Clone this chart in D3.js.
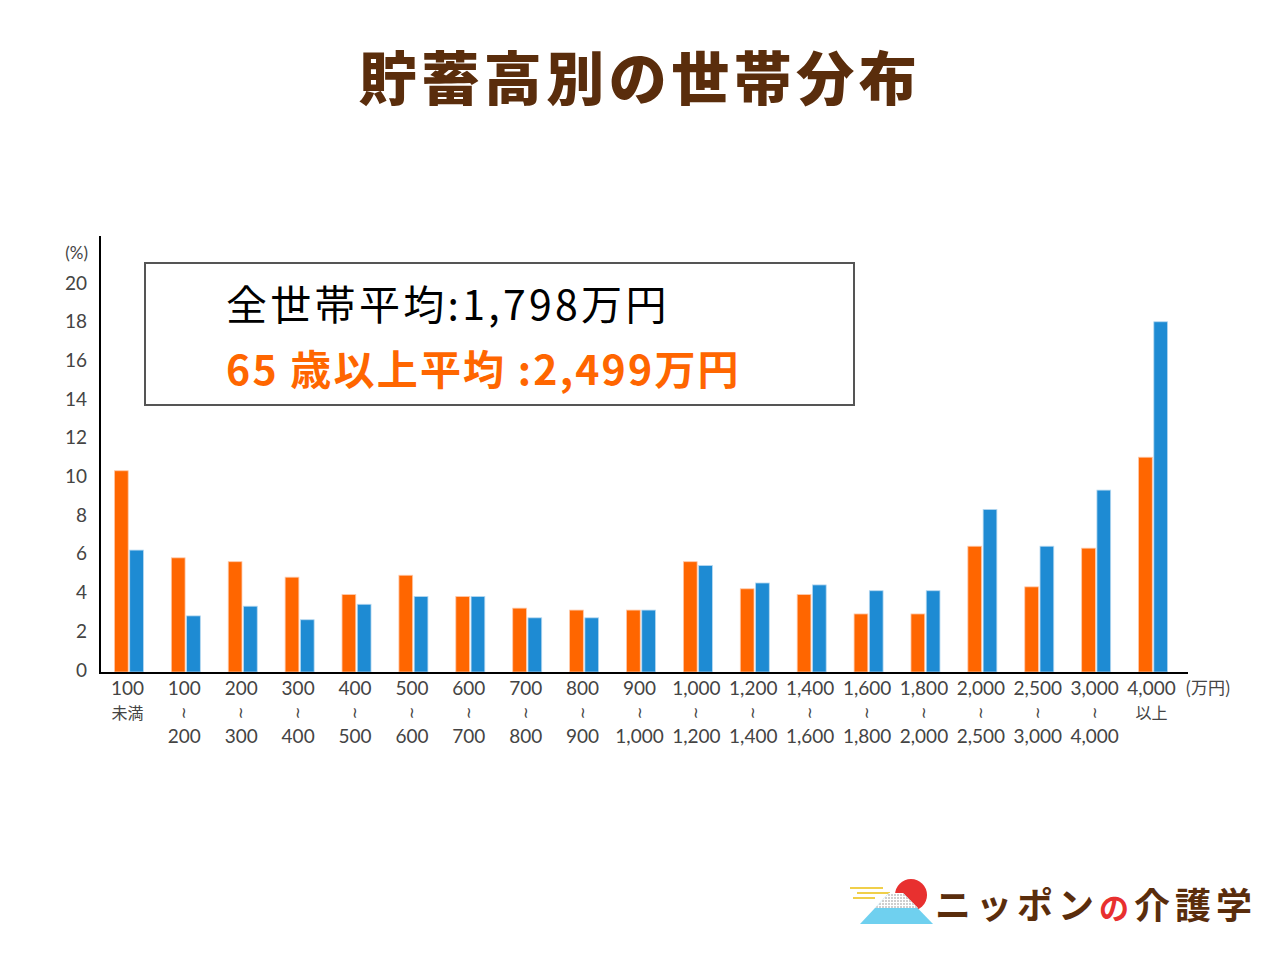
<!DOCTYPE html>
<html>
<head>
<meta charset="utf-8">
<script src="https://cdn.jsdelivr.net/npm/d3@7"></script>
<style>
body { margin: 0; background: #fff; }
text { font-family: "Noto Sans CJK JP", "Noto Sans", sans-serif; }
</style>
</head>
<body>
<div id="chart"></div>
<script>
var line1 = ['100', '100', '200', '300', '400', '500', '600', '700', '800', '900', '1,000', '1,200', '1,400', '1,600', '1,800', '2,000', '2,500', '3,000', '4,000']
var line2 = ['未満', '~', '~', '~', '~', '~', '~', '~', '~', '~', '~', '~', '~', '~', '~', '~', '~', '~', '以上']
var line3 = ['', '200', '300', '400', '500', '600', '700', '800', '900', '1,000', '1,200', '1,400', '1,600', '1,800', '2,000', '2,500', '3,000', '4,000', '']
var seriesOrange = [10.4, 5.9, 5.7, 4.9, 4.0, 5.0, 3.9, 3.3, 3.2, 3.2, 5.7, 4.3, 4.0, 3.0, 3.0, 6.5, 4.4, 6.4, 11.1]
var seriesBlue = [6.3, 2.9, 3.4, 2.7, 3.5, 3.9, 3.9, 2.8, 2.8, 3.2, 5.5, 4.6, 4.5, 4.2, 4.2, 8.4, 6.5, 9.4, 18.1]
var yTicks = [0, 2, 4, 6, 8, 10, 12, 14, 16, 18, 20]

var W = 1280, H = 960
var numFont = 'Lato, "Noto Sans", sans-serif'
var svg = d3.select('#chart').append('svg')
	.attr('width', W)
	.attr('height', H)

var idx = d3.range(line1.length)

var x = d3.scaleBand()
	.domain(idx)
	.range([99, 1180])

var x1 = d3.scaleBand()
	.domain(['o', 'b'])
	.range([-13, 16])
	.paddingInner(0.1)

var y = d3.scaleLinear()
	.domain([0, 20])
	.range([672, 285])

// title
svg.append('text')
	.attr('x', 640)
	.attr('y', 100)
	.attr('text-anchor', 'middle')
	.attr('font-size', 58)
	.attr('font-weight', 900)
	.attr('letter-spacing', 4.5)
	.attr('fill', '#5a2d0c')
	.text('貯蓄高別の世帯分布')

// bars
var g = svg.append('g')

g.selectAll('rect.o')
	.data(seriesOrange)
	.enter().append('rect')
	.attr('class', 'o')
	.attr('x', function(d, i) { return x(i) + x.bandwidth() / 2 + x1('o') })
	.attr('y', function(d) { return y(d) })
	.attr('width', x1.bandwidth())
	.attr('height', function(d) { return y(0) - y(d) })
	.attr('fill', '#ff6600')
	.attr('stroke', '#ffc8a8')
	.attr('stroke-width', 0.8)

g.selectAll('rect.b')
	.data(seriesBlue)
	.enter().append('rect')
	.attr('class', 'b')
	.attr('x', function(d, i) { return x(i) + x.bandwidth() / 2 + x1('b') })
	.attr('y', function(d) { return y(d) })
	.attr('width', x1.bandwidth())
	.attr('height', function(d) { return y(0) - y(d) })
	.attr('fill', '#1e8bd3')
	.attr('stroke', '#b5d8f0')
	.attr('stroke-width', 0.8)

// axes lines
svg.append('line')
	.attr('x1', 100).attr('x2', 100)
	.attr('y1', 236).attr('y2', 674)
	.attr('stroke', '#000').attr('stroke-width', 2)
svg.append('line')
	.attr('x1', 99).attr('x2', 1188)
	.attr('y1', 673).attr('y2', 673)
	.attr('stroke', '#000').attr('stroke-width', 2)

// y tick labels
var yAxis = d3.axisLeft(y).tickValues(yTicks).tickSize(0).tickPadding(0)
var ya = svg.append('g')
	.attr('transform', 'translate(87,-2)')
	.call(yAxis)
ya.select('.domain').remove()
ya.selectAll('text')
	.attr('font-size', 19)
	.attr('fill', '#444')
	.style('font-family', numFont)

svg.append('text')
	.attr('x', 88).attr('y', 259)
	.attr('text-anchor', 'end')
	.attr('font-size', 17)
	.attr('fill', '#444')
	.style('font-family', numFont)
	.text('(%)')

// x labels
var xl = svg.append('g')
	.attr('fill', '#444')
	.attr('text-anchor', 'middle')

function addRow(arr, yy) {
	xl.selectAll(null)
		.data(arr)
		.enter().append('text')
		.attr('x', function(d, i) { return x(i) + x.bandwidth() / 2 })
		.attr('y', yy)
		.attr('font-size', function(d) { return d === '~' ? 15 : (d === '未満' || d === '以上' ? 16 : 19) })
		.style('font-family', function(d) {
			if (d === '~') return '"DejaVu Sans", sans-serif'
			if (d === '未満' || d === '以上') return '"Noto Sans CJK JP", sans-serif'
			return numFont
		})
		.attr('dominant-baseline', function(d) { return d === '~' ? 'central' : null })
		.attr('transform', function(d, i) {
			return d === '~' ? 'rotate(90,' + (x(i) + x.bandwidth() / 2) + ',' + (yy - 6) + ')' : null
		})
		.attr('dy', function(d) { return d === '~' ? -6 : null })
		.text(function(d) { return d })
}
addRow(line1, 695)
addRow(line2, 719)
addRow(line3, 743)

svg.append('text')
	.attr('x', 1208).attr('y', 694)
	.attr('text-anchor', 'middle')
	.attr('font-size', 17)
	.attr('fill', '#444')
	.text('(万円)')

// info box
svg.append('rect')
	.attr('x', 145).attr('y', 263)
	.attr('width', 709).attr('height', 142)
	.attr('fill', '#fff')
	.attr('stroke', '#555')
	.attr('stroke-width', 2)

svg.append('text')
	.attr('x', 226).attr('y', 320)
	.attr('font-size', 41)
	.attr('letter-spacing', 3.3)
	.attr('fill', '#000')
	.text('全世帯平均:1,798万円')

svg.append('text')
	.attr('x', 226).attr('y', 385)
	.attr('font-size', 41)
	.attr('font-weight', 700)
	.attr('letter-spacing', 2.2)
	.attr('fill', '#ff6600')
	.text('65 歳以上平均 :2,499万円')

// logo
var logo = svg.append('g')
var defs = svg.append('defs')
defs.append('pattern')
	.attr('id', 'dots')
	.attr('width', 3).attr('height', 3)
	.attr('patternUnits', 'userSpaceOnUse')
	.append('rect')
	.attr('width', 2).attr('height', 2)
	.attr('fill', '#cfcfcf')

logo.append('circle')
	.attr('cx', 911).attr('cy', 895).attr('r', 16)
	.attr('fill', '#e8302f')
var yl = [[850, 883, 888], [857, 890, 893], [853, 875, 898]]
yl.forEach(function(l) {
	logo.append('line')
		.attr('x1', l[0]).attr('x2', l[1])
		.attr('y1', l[2]).attr('y2', l[2])
		.attr('stroke', '#f0cf4a').attr('stroke-width', 2)
})
logo.append('path')
	.attr('d', 'M860,924 L889,893 L903,893 L933,924 Z')
	.attr('fill', '#6fd0ef')
logo.append('path')
	.attr('d', 'M875,908 L889,893 L903,893 L918,908 Z')
	.attr('fill', '#fff')
logo.append('path')
	.attr('d', 'M875,908 L889,893 L903,893 L918,908 Z')
	.attr('fill', 'url(#dots)')

var lt = logo.append('text')
	.attr('x', 935).attr('y', 919)
	.attr('font-size', 36)
	.attr('font-weight', 700)
	.attr('letter-spacing', 5)
	.attr('fill', '#5a2d0c')
lt.append('tspan').text('ニッポン')
lt.append('tspan').attr('fill', '#e8302f').attr('font-size', 30).text('の')
lt.append('tspan').text('介護学')
</script>
</body>
</html>
